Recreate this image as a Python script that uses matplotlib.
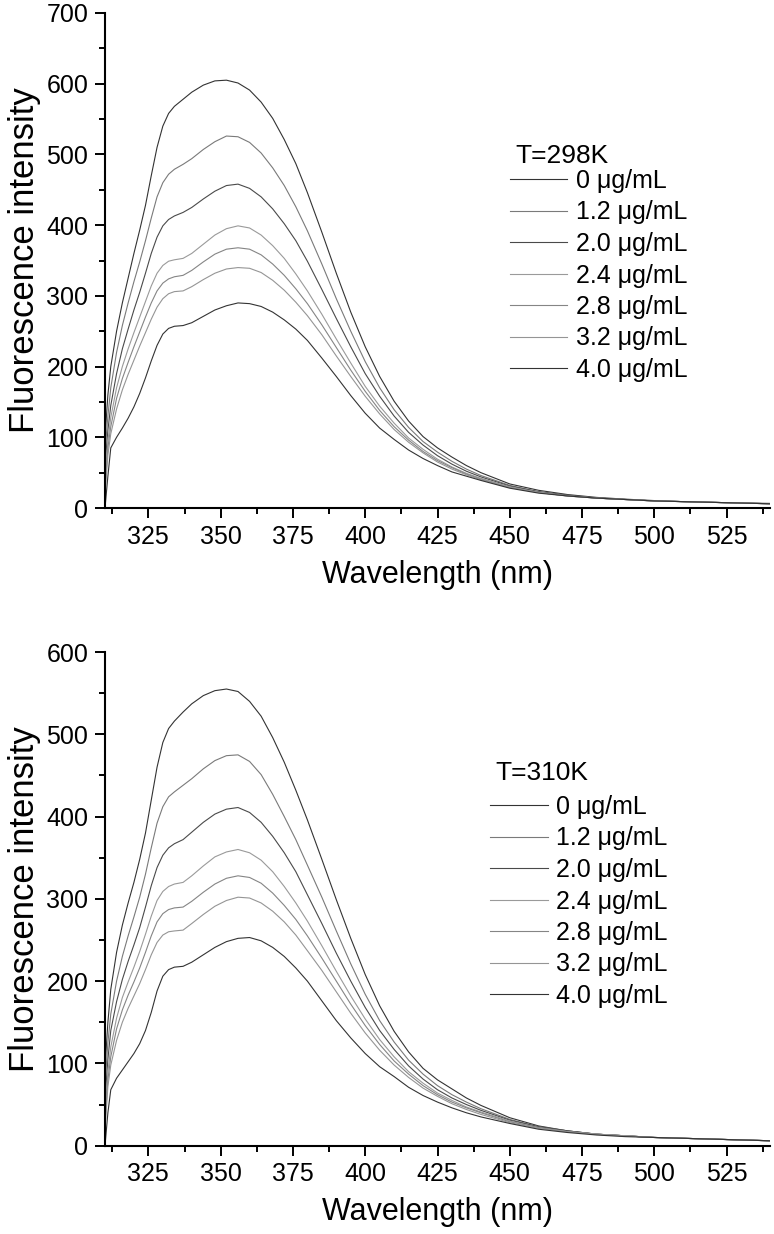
import matplotlib
matplotlib.use('Agg')
import matplotlib.pyplot as plt
from matplotlib.ticker import MultipleLocator

plt.rcParams['font.family'] = ['Liberation Sans', 'DejaVu Sans']

# Longitudes de onda (nm)
wavelength = [310, 311, 312, 314, 316, 318, 320, 322, 324, 326, 328, 330, 332, 334, 337, 340,
              344, 348, 352, 356, 360, 364, 368, 372, 376, 380, 385, 390, 395, 400, 405, 410,
              415, 420, 425, 430, 435, 440, 450, 460, 470, 480, 490, 500, 510, 520, 530, 540]

conc_labels = ['0 μg/mL', '1.2 μg/mL', '2.0 μg/mL', '2.4 μg/mL', '2.8 μg/mL', '3.2 μg/mL', '4.0 μg/mL']
line_colors = ['#333333', '#7a7a7a', '#4a4a4a', '#9a9a9a', '#858585', '#959595', '#333333']

# T = 298 K
f298_0 = [100, 160, 200, 250, 290, 325, 360, 393, 428, 470, 510, 540, 558, 568, 578, 588,
          598, 604, 605, 601, 591, 574, 551, 521, 487, 446, 390, 332, 277, 228, 186, 151,
          123, 101, 85, 72, 60, 50, 34, 25, 19, 15, 12.5, 10.5, 9, 8, 7, 6.5]
f298_12 = [80, 130, 170, 220, 258, 290, 320, 348, 378, 410, 440, 460, 472, 479, 486, 494,
           507, 518, 526, 525, 517, 502, 481, 456, 426, 392, 345, 296, 250, 207, 170, 139,
           114, 94, 79, 66, 55, 46, 32, 23, 18, 14, 12, 10, 9, 8, 7, 6]
f298_20 = [60, 110, 145, 190, 225, 253, 280, 305, 332, 360, 383, 399, 408, 413, 418, 425,
           437, 448, 456, 458, 452, 440, 423, 402, 378, 349, 309, 268, 228, 190, 158, 130,
           107, 89, 74, 62, 52, 44, 31, 23, 18, 14, 12, 10, 9, 8, 7, 6]
f298_24 = [45, 95, 128, 170, 200, 225, 248, 270, 292, 314, 332, 343, 349, 351, 353, 360,
           373, 386, 395, 399, 396, 386, 371, 353, 331, 307, 274, 239, 205, 172, 144, 120,
           99, 83, 69, 58, 49, 42, 30, 22, 17, 14, 12, 10, 9, 8, 7, 6]
f298_28 = [30, 85, 115, 155, 183, 206, 228, 249, 270, 290, 307, 318, 324, 327, 329, 336,
           348, 359, 366, 368, 366, 358, 345, 329, 310, 289, 259, 227, 195, 165, 138, 115,
           96, 80, 67, 57, 48, 41, 29, 22, 17, 14, 12, 10, 9, 8, 7, 6]
f298_32 = [20, 75, 105, 140, 167, 189, 209, 229, 248, 267, 284, 296, 303, 306, 307, 313,
           323, 332, 338, 340, 339, 333, 322, 308, 291, 272, 245, 215, 186, 158, 133, 111,
           93, 78, 65, 55, 47, 40, 29, 22, 17, 14, 12, 10, 9, 8, 7, 6]
f298_40 = [0, 45, 85, 100, 113, 127, 143, 162, 184, 208, 230, 246, 254, 257, 258, 262,
           271, 280, 286, 290, 289, 285, 277, 266, 253, 237, 212, 186, 159, 134, 113, 97,
           82, 70, 60, 51, 45, 39, 28, 21, 17, 14, 12, 10, 9, 8, 7, 6]

# T = 310 K
f310_0 = [95, 150, 190, 235, 268, 295, 320, 348, 380, 420, 460, 490, 507, 516, 527, 537,
          547, 553, 555, 552, 540, 522, 496, 466, 432, 396, 348, 299, 252, 208, 170, 139,
          114, 94, 80, 69, 58, 49, 34, 24, 18, 14, 12, 10, 9, 8, 7, 6]
f310_12 = [75, 125, 160, 200, 230, 255, 278, 302, 330, 362, 392, 412, 424, 430, 438, 446,
           458, 468, 474, 475, 467, 451, 427, 400, 372, 341, 302, 261, 221, 184, 152, 126,
           104, 87, 73, 62, 53, 45, 32, 23, 18, 14, 12, 10, 9, 8, 7, 6]
f310_20 = [55, 105, 140, 175, 202, 224, 244, 265, 290, 316, 338, 353, 362, 367, 372, 381,
           393, 403, 409, 411, 405, 393, 376, 356, 333, 305, 270, 234, 200, 168, 140, 117,
           97, 81, 68, 58, 50, 43, 31, 23, 18, 14, 12, 10, 9, 8, 7, 6]
f310_24 = [40, 90, 120, 155, 180, 199, 217, 236, 257, 279, 298, 309, 315, 318, 320, 328,
           340, 351, 357, 360, 356, 347, 333, 315, 295, 273, 243, 212, 182, 154, 129, 108,
           90, 76, 64, 55, 47, 41, 30, 22, 17, 14, 12, 10, 9, 8, 7, 6]
f310_28 = [30, 80, 108, 142, 165, 183, 199, 216, 235, 255, 272, 282, 287, 289, 290, 297,
           308, 318, 325, 328, 326, 319, 307, 292, 275, 255, 228, 200, 172, 146, 123, 103,
           87, 73, 62, 53, 46, 40, 29, 22, 17, 14, 12, 10, 9, 8, 7, 6]
f310_32 = [20, 72, 98, 128, 150, 167, 182, 197, 214, 232, 247, 256, 260, 261, 262, 270,
           281, 291, 298, 302, 301, 295, 285, 272, 256, 237, 213, 187, 161, 137, 116, 98,
           83, 70, 60, 51, 44, 38, 28, 21, 17, 14, 12, 10, 9, 8, 7, 6]
f310_40 = [0, 40, 68, 82, 92, 102, 112, 124, 140, 162, 188, 206, 214, 217, 218, 223,
           232, 241, 248, 252, 253, 249, 241, 230, 216, 200, 176, 152, 131, 112, 96, 84,
           71, 61, 53, 46, 40, 35, 27, 20, 16, 13, 11, 10, 9, 8, 7, 6]

series_298 = [f298_0, f298_12, f298_20, f298_24, f298_28, f298_32, f298_40]
series_310 = [f310_0, f310_12, f310_20, f310_24, f310_28, f310_32, f310_40]

fig = plt.figure(figsize=(7.74, 12.34), dpi=100)
ax1 = fig.add_axes([105 / 774, 1 - 508 / 1234, 665 / 774, 495 / 1234])
ax2 = fig.add_axes([105 / 774, 1 - 1145.7 / 1234, 665 / 774, 493.7 / 1234])


def dibujar_panel(ax, series, ymax, titulo, leg_x, leg_y, tit_x, tit_y):
    for datos, etiqueta, color in zip(series, conc_labels, line_colors):
        ax.plot(wavelength, datos, color=color, lw=0.8, label=etiqueta)
    ax.set_xlim(310, 540)
    ax.set_ylim(0, ymax)
    ax.xaxis.set_minor_locator(MultipleLocator(12.5))
    ax.yaxis.set_major_locator(MultipleLocator(100))
    ax.yaxis.set_minor_locator(MultipleLocator(50))
    ax.set_xticks([325, 350, 375, 400, 425, 450, 475, 500, 525])
    for lado in ['top', 'right']:
        ax.spines[lado].set_visible(False)
    for lado in ['left', 'bottom']:
        ax.spines[lado].set_linewidth(1.5)
    ax.tick_params(which='major', direction='out', length=7, width=1.4, labelsize=18, pad=5)
    ax.tick_params(which='minor', direction='out', length=4, width=1.4)
    ax.set_xlabel('Wavelength (nm)', fontsize=22, labelpad=8)
    ax.set_ylabel('Fluorescence intensity', fontsize=25, labelpad=4)
    fig.text(tit_x / 774, 1 - tit_y / 1234, titulo, fontsize=19, va='center', ha='left')
    ax.legend(loc='upper left', bbox_to_anchor=(leg_x / 774, 1 - leg_y / 1234),
              bbox_transform=fig.transFigure, frameon=False, fontsize=18,
              handlelength=2.3, handletextpad=0.35, labelspacing=0.30,
              borderpad=0, borderaxespad=0)


dibujar_panel(ax1, series_298, 700, 'T=298K', 510, 169, 515, 156)
dibujar_panel(ax2, series_310, 600, 'T=310K', 490, 795, 495, 773)

plt.savefig('out.png', dpi=100)
